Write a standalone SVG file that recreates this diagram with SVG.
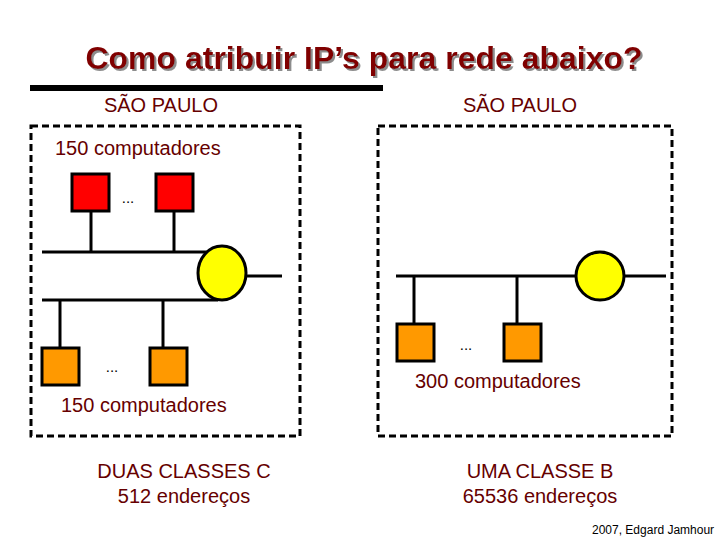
<svg xmlns="http://www.w3.org/2000/svg" width="720" height="540" viewBox="0 0 720 540">
<defs>
<filter id="sh" x="-5%" y="-20%" width="110%" height="150%">
<feDropShadow dx="2" dy="2" stdDeviation="0.6" flood-color="#8c8c8c" flood-opacity="1"/>
</filter>
</defs>
<style>
.t{font-family:"Liberation Sans",Arial,sans-serif}
.lbl{font-family:"Liberation Sans",Arial,sans-serif;font-size:20px;fill:#660000}
.dots{font-family:"Liberation Sans",Arial,sans-serif;font-size:15px;fill:#000}
.box{fill:none;stroke:#000;stroke-width:3;stroke-dasharray:7 4}
.ln{stroke:#000;stroke-width:3;fill:none}
.red{fill:#ff0000;stroke:#000;stroke-width:3}
.org{fill:#ff9900;stroke:#000;stroke-width:3}
.rt{fill:#ffff00;stroke:#000;stroke-width:3}
</style>
<rect width="720" height="540" fill="#fff"/>
<g id="title">
<text class="t" x="364" y="69" font-size="32" font-weight="bold" fill="#800000" text-anchor="middle" filter="url(#sh)">Como atribuir IP’s para rede abaixo?</text>
</g>
<line x1="30" y1="88" x2="383" y2="88" stroke="#000" stroke-width="6"/>
<text class="lbl" x="161" y="112" text-anchor="middle">SÃO PAULO</text>
<text class="lbl" x="520" y="112" text-anchor="middle">SÃO PAULO</text>
<rect class="box" x="31" y="126" width="269" height="310"/>
<rect class="box" x="378" y="126" width="294" height="310"/>
<g id="connectors">
<line class="ln" x1="42" y1="252" x2="210" y2="252"/>
<line class="ln" x1="91" y1="210" x2="91" y2="252"/>
<line class="ln" x1="174" y1="210" x2="174" y2="252"/>
<line class="ln" x1="42" y1="300" x2="218" y2="300"/>
<line class="ln" x1="60" y1="300" x2="60" y2="348"/>
<line class="ln" x1="163" y1="300" x2="163" y2="348"/>
<line class="ln" x1="245" y1="276" x2="282" y2="276"/>
<line class="ln" x1="396" y1="276" x2="577" y2="276"/>
<line class="ln" x1="624" y1="276" x2="666" y2="276"/>
<line class="ln" x1="414" y1="276" x2="414" y2="324"/>
<line class="ln" x1="517" y1="276" x2="517" y2="324"/>
</g>
<g id="left-hosts-top">
<rect class="red" x="72" y="174" width="37" height="37"/>
<rect class="red" x="156" y="174" width="37" height="37"/>
<text class="dots" x="128" y="203" text-anchor="middle">...</text>
</g>
<g id="left-hosts-bottom">
<rect class="org" x="42" y="348" width="37" height="37"/>
<rect class="org" x="150" y="348" width="37" height="37"/>
<text class="dots" x="112" y="372" text-anchor="middle">...</text>
</g>
<g id="left-router">
<ellipse class="rt" cx="222" cy="273" rx="24" ry="27"/>
</g>
<g id="right-hosts">
<rect class="org" x="397" y="324" width="37" height="37"/>
<rect class="org" x="504" y="324" width="37" height="37"/>
<text class="dots" x="466" y="350" text-anchor="middle">...</text>
</g>
<g id="right-router">
<circle class="rt" cx="600" cy="276" r="24"/>
</g>
<text class="lbl" x="55" y="155">150 computadores</text>
<text class="lbl" x="61" y="412">150 computadores</text>
<text class="lbl" x="415" y="388">300 computadores</text>
<text class="lbl" x="184" y="478" text-anchor="middle">DUAS CLASSES C</text>
<text class="lbl" x="184" y="503" text-anchor="middle">512 endereços</text>
<text class="lbl" x="540" y="478" text-anchor="middle">UMA CLASSE B</text>
<text class="lbl" x="540" y="503" text-anchor="middle">65536 endereços</text>
<text class="t" x="592" y="534" font-size="12" fill="#000">2007, Edgard Jamhour</text>
</svg>
